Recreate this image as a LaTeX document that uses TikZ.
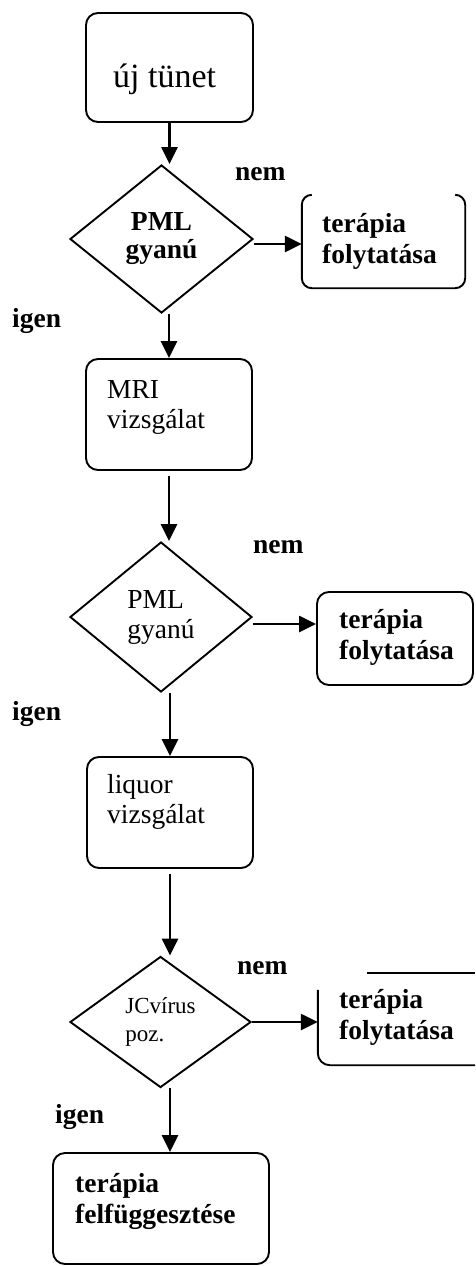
\documentclass[tikz,border=0pt]{standalone}
\usepackage{fontspec}
\setmainfont{Liberation Serif}
\usetikzlibrary{shapes.geometric,arrows.meta}
% two left-aligned lines, baseline on the first one
\newcommand{\twolines}[2]{\begin{tabular}[t]{@{}l@{}}#1\\#2\end{tabular}}
\begin{document}
\begin{tikzpicture}[x=1pt,y=-1pt,
  flow/.style={draw=black, line width=1.9pt},
  stepbox/.style={rectangle, draw=black, line width=1.9pt, rounded corners=12pt, inner sep=0pt},
  frame/.style={rectangle, inner sep=0pt},
  choice/.style={diamond, draw=black, line width=1.9pt, inner sep=0pt},
  arr/.style={-{Triangle[length=17pt,width=16pt]}, line width=2.5pt},
  txt/.style={inner sep=0pt, anchor=base west, font=\fontsize{27.5}{30}\selectfont},
  lbl/.style={inner sep=0pt, anchor=base west, font=\fontsize{27.5}{31}\selectfont\bfseries},
]
\useasboundingbox (0,0) rectangle (475,1266);

% start
\node[stepbox, minimum width=167, minimum height=109] (b1) at (169.5,67.5) {};
\node[inner sep=0pt, anchor=base west, font=\fontsize{34}{38}\selectfont] (b1t) at (113,87) {új tünet};

% first decision
\node[choice, minimum width=183, minimum height=148, align=center,
      font=\fontsize{27.5}{28}\selectfont\bfseries] (d1) at (161.5,239) {PML\\gyanú};
\node[frame, minimum width=163, minimum height=93] (t1) at (383.5,241.5) {};
\draw[flow, rounded corners=10pt] ([xshift=10pt]t1.north west) -- (t1.north west) -- (t1.south west)
  -- (t1.south east) -- (t1.north east) -- ([xshift=-10pt]t1.north east);
\node[lbl] (t1t) at (322,232) {\twolines{terápia}{folytatása}};
\node[lbl] (n1) at (235,180) {nem};
\node[lbl] (i1) at (12,327) {igen};

% MRI
\node[stepbox, minimum width=166, minimum height=111] (m1) at (169,414.5) {};
\node[txt] (m1t) at (107,398) {\twolines{MRI}{vizsgálat}};

% second decision
\node[choice, minimum width=182, minimum height=150, align=left,
      font=\fontsize{27.5}{30}\selectfont] (d2) at (161,617) {PML\\gyanú};
\node[stepbox, minimum width=156, minimum height=93] (t2) at (395,638.5) {};
\node[lbl] (t2t) at (339,628) {\twolines{terápia}{folytatása}};
\node[lbl] (n2) at (253,553) {nem};
\node[lbl] (i2) at (12,720) {igen};

% liquor
\node[stepbox, minimum width=166, minimum height=111] (lq) at (170,812.5) {};
\node[txt] (lqt) at (107,793) {\twolines{liquor}{vizsgálat}};

% third decision
\node[choice, minimum width=181, minimum height=131, align=left,
      font=\fontsize{23}{28}\selectfont] (d3) at (160.5,1022) {JCvírus\\poz.};
\node[frame, minimum width=157, minimum height=92] (t3) at (396.5,1019) {};
\draw[flow] ([xshift=49pt]t3.north west) -- (t3.north east);
\draw[flow, rounded corners=12pt] ([yshift=-17pt]t3.north west) -- (t3.south west) -- (t3.south east);
\node[lbl] (t3t) at (339,1008) {\twolines{terápia}{folytatása}};
\node[lbl] (n3) at (237,974) {nem};
\node[lbl] (i3) at (55,1123) {igen};

% end
\node[stepbox, minimum width=216, minimum height=111] (fin) at (161,1208.5) {};
\node[lbl] (fint) at (75,1192) {\twolines{terápia}{felfüggesztése}};

% connectors
\draw[arr] (b1.south) -- (b1.south |- d1.north);
\draw[arr] ([yshift=-5pt]d1.east) -- ([yshift=-5pt]d1.east -| t1.west);
\draw[arr] (m1.north |- d1.south) -- (m1.north);
\draw[arr] ([yshift=-5pt]m1.south) -- (m1.south |- d2.north);
\draw[arr] ([yshift=-7pt]d2.east) -- ([yshift=-7pt]d2.east -| t2.west);
\draw[arr] (lq.north |- d2.south) -- (lq.north);
\draw[arr] ([yshift=-5pt]lq.south) -- (lq.south |- d3.north);
\draw[arr] (d3.east) -- (d3.east -| t3.west);
\draw[arr] (lq.south |- d3.south) -- (lq.south |- fin.north);
\end{tikzpicture}
\end{document}
